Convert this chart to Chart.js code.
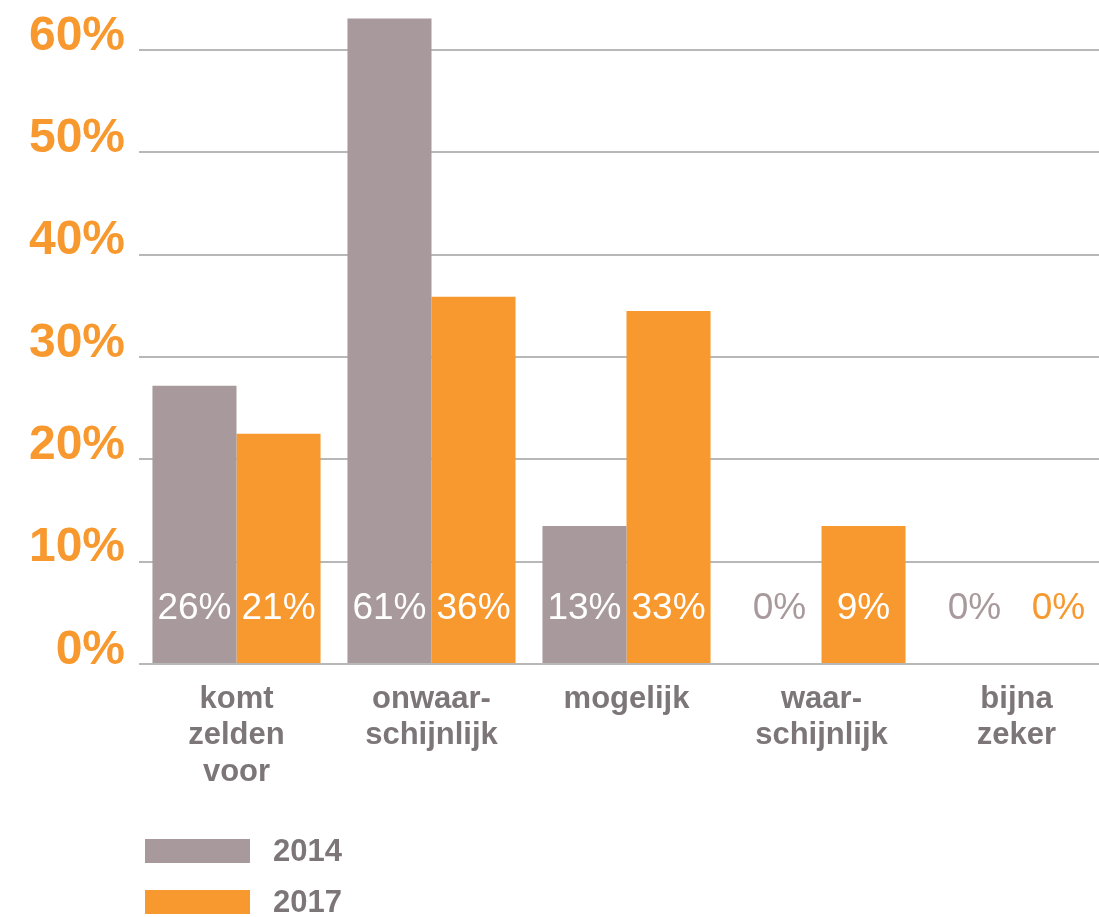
<!DOCTYPE html>
<html><head><meta charset="utf-8">
<script src="https://cdn.jsdelivr.net/npm/chart.js@4/dist/chart.umd.min.js"></script>
<style>
html,body{margin:0;padding:0;background:#fff;overflow:hidden;}
#wrap{position:relative;width:1114px;height:917px;}
#legend{position:absolute;left:145px;top:825px;font-family:"Liberation Sans",Arial,sans-serif;font-weight:bold;font-size:31px;color:#7d7679;}
.item{display:flex;align-items:center;height:51px;}
.box{width:105px;height:24px;margin-right:23px;}
</style></head><body>
<div id="wrap"><canvas id="c"></canvas><div id="legend"></div></div>
<script>
const categories = [['komt','zelden','voor'],['onwaar-','schijnlijk'],'mogelijk',['waar-','schijnlijk'],['bijna','zeker']];
const seriesNames = ['2014','2017'];
const bars2014 = [27.2,63.1,13.5,0,0];
const bars2017 = [22.5,35.9,34.5,13.5,0];
const labels2014 = [26,61,13,0,0];
const labels2017 = [21,36,33,9,0];
const yTicks = [0,10,20,30,40,50,60];

const grey = '#a89a9c', orange = '#f7992e';

const valueLabels = {
  id:'valueLabels',
  afterDatasetsDraw(chart){
    const ctx = chart.ctx;
    const y0 = chart.scales.y.getPixelForValue(0);
    chart.data.datasets.forEach((ds,i)=>{
      const meta = chart.getDatasetMeta(i);
      meta.data.forEach((bar,j)=>{
        const ty = y0 - 55;
        const inside = bar.y < ty - 18;
        ctx.save();
        ctx.fillStyle = inside ? '#ffffff' : ds.backgroundColor;
        ctx.font = '37px "Liberation Sans", Arial, sans-serif';
        ctx.textAlign = 'center';
        ctx.textBaseline = 'middle';
        ctx.fillText(ds.valueLabels[j] + '%', bar.x, ty);
        ctx.restore();
      });
    });
  }
};

const chart = new Chart(document.getElementById('c'), {
  type:'bar',
  data:{
    labels: categories,
    datasets:[
      {label:seriesNames[0], data:bars2014, valueLabels:labels2014, backgroundColor:grey, categoryPercentage:0.862, barPercentage:1},
      {label:seriesNames[1], data:bars2017, valueLabels:labels2017, backgroundColor:orange, categoryPercentage:0.862, barPercentage:1}
    ]
  },
  options:{
    responsive:true, maintainAspectRatio:false, animation:false,
    layout:{padding:{top:0,left:0,right:0,bottom:0}},
    plugins:{legend:{display:false}, tooltip:{enabled:false}},
    scales:{
      x:{
        grid:{display:false, drawTicks:false},
        border:{display:false},
        ticks:{color:'#7d7679', padding:17, maxRotation:0, autoSkip:false,
          font:{family:'"Liberation Sans", Arial, sans-serif', size:31, weight:'bold', lineHeight:1.18}},
        afterFit(s){ s.height = 253; s.paddingLeft = 0; s.paddingRight = 0; }
      },
      y:{
        min:0, max:64.9,
        afterBuildTicks(s){ s.ticks = yTicks.map(v=>({value:v})); },
        grid:{color:'#b8b8b8', lineWidth:2, drawTicks:false},
        border:{display:false},
        ticks:{color:'#f7992e', padding:14, labelOffset:-13.5, callback:v=>v+'%',
          font:{family:'"Liberation Sans", Arial, sans-serif', size:48, weight:'bold'}},
        afterFit(s){ s.width = 139; s.paddingTop = 0; s.paddingBottom = 0; }
      }
    }
  },
  plugins:[valueLabels]
});

const lg = document.getElementById('legend');
chart.data.datasets.forEach(ds=>{
  const it = document.createElement('div'); it.className='item';
  const b = document.createElement('div'); b.className='box'; b.style.background = ds.backgroundColor;
  const t = document.createElement('span'); t.textContent = ds.label;
  it.appendChild(b); it.appendChild(t); lg.appendChild(it);
});
</script>
</body></html>
